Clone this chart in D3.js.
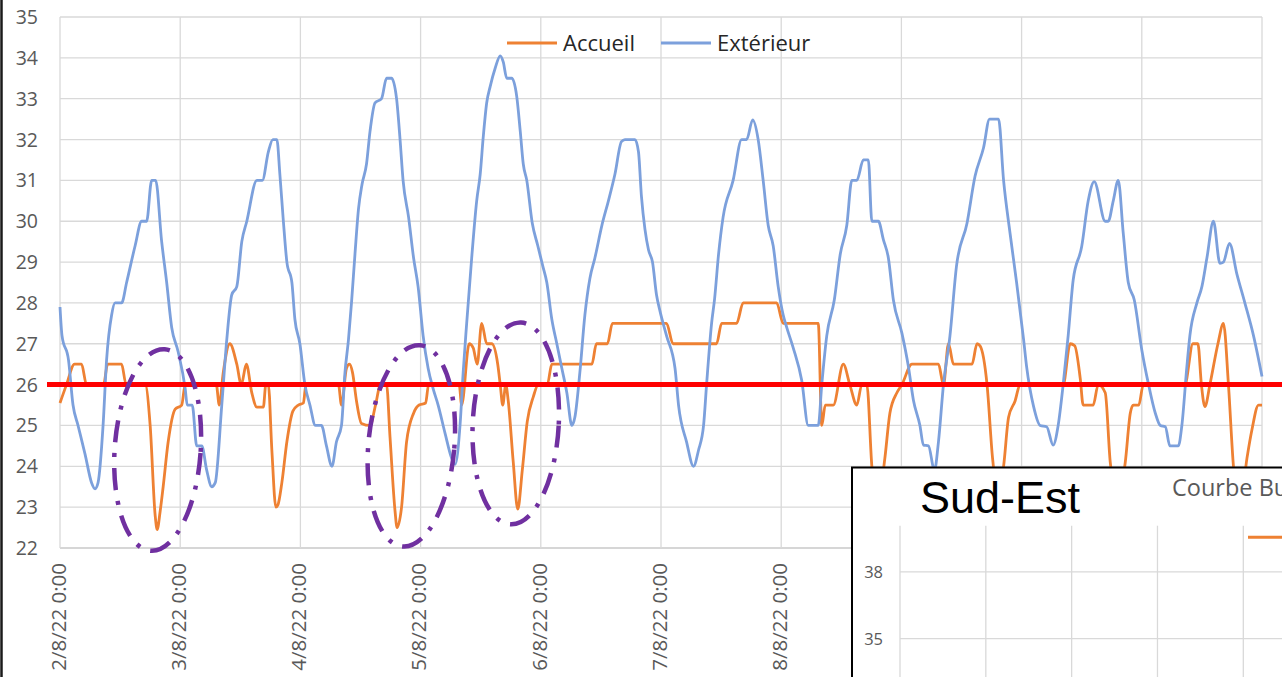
<!DOCTYPE html>
<html>
<head>
<meta charset="utf-8">
<script src="https://cdn.jsdelivr.net/npm/d3@7"></script>
<style>
  html, body { margin: 0; padding: 0; background: #fff; }
  svg { display: block; }
  .grid line { stroke: #d9d9d9; stroke-width: 1.3; }
  .tick-label { font-family: "Open Sans", sans-serif; fill: #595959; }
  .legend-label { font-family: "Open Sans", sans-serif; font-size: 22px; fill: #262626; }
  .serie { fill: none; stroke-width: 2.8; stroke-linejoin: round; }
</style>
</head>
<body>
<svg id="chart" width="1282" height="677"></svg>
<script>
// Extérieur / Accueil temperatures, [hours since 2/8/22 0:00, °C]
const exterieur = [
	[0,27.9],[0.4,27.2],[1.7,26.6],[2.6,25.5],[3.6,25.0],[5,24.3],[6.3,23.6],[7,23.45],[7.6,23.6],[8.6,25.0],
	[9.3,26.6],[10.3,27.7],[11,28],[12.3,28],[13.3,28.5],[15,29.4],[16.3,30],[17.3,30],[18.3,31],[19.1,31],
	[20.3,29.5],[21.3,28.5],[22.3,27.4],[23.6,26.8],[25,25.9],[25.4,25.5],[26.4,25.5],[27.3,24.5],[28.3,24.5],[29.3,23.9],
	[30.3,23.5],[31,23.6],[32.3,25.5],[33.3,27.1],[34.3,28.2],[35.3,28.4],[36.3,29.5],[37.3,30],[39.3,31],[40.4,31],
	[41.6,31.7],[42.5,32],[43.3,32],[43.9,31.15],[44.6,30],[45.3,29],[46.3,28.5],[46.9,27.6],[47.9,27],[48.9,26],
	[49.9,25.5],[51,25],[52.2,25],[53.2,24.5],[54.3,24],[55.2,24.6],[56.2,25],[56.9,26.3],[57.6,27.1],[58.2,28],
	[58.9,29.2],[59.6,30.3],[60.3,30.9],[61.2,31.4],[61.9,32.2],[62.9,32.9],[64.2,33],[65.2,33.5],[66.2,33.5],[67.2,33],
	[67.9,32],[68.5,31],[69.6,30.1],[70.6,29.1],[71.5,28.4],[72.5,27.2],[73.5,26.4],[74.5,25.9],[75.5,25.5],[76.9,24.8],
	[78.2,24.2],[78.9,24.05],[79.9,25.05],[80.5,26.3],[81.2,27.5],[82.2,29.1],[83.2,30.5],[83.9,31.15],[84.5,32.05],[85.2,32.9],
	[85.9,33.3],[86.9,33.75],[87.9,34.05],[88.5,33.9],[89.2,33.5],[90.2,33.5],[91.2,33.05],[91.9,32.2],[92.5,31.4],[93.2,31],
	[94.3,29.95],[95.4,29.4],[96.4,28.9],[97.2,28.5],[98.2,27.6],[99.2,27.0],[100.2,26.4],[101.2,25.8],[102.2,25.0],[102.8,25.2],
	[103.8,26.3],[104.8,27.7],[105.8,28.6],[106.8,29.1],[108.2,29.9],[109.5,30.5],[110.8,31.15],[112.1,31.95],[112.8,32],[114.8,32],
	[115.5,31.7],[116.1,30.6],[116.8,29.8],[117.5,29.3],[118.3,29],[119.1,28.2],[119.8,27.8],[121.1,27.2],[122.8,26.4],[123.5,25.5],
	[125.1,24.6],[126.5,24.0],[127.5,24.4],[128.5,25],[129.1,26],[130.1,27.5],[130.7,28.1],[131.5,29.2],[132.4,30.1],[134.4,31],
	[136.1,32],[137.1,32],[138.3,32.48],[139.4,32],[140.4,31],[141.4,29.9],[142.4,29.4],[143.4,28.4],[144.4,27.7],[145.1,27.4],
	[146.4,26.9],[148.1,26.1],[149.4,25],[151.4,25],[152.1,26],[153.1,27.2],[154.6,28.07],[155.8,29.2],[157.1,29.9],[158.1,31],
	[159.1,31],[160.4,31.5],[161.4,31.5],[162.1,30],[163.4,30],[164.4,29.55],[165.4,29.1],[166.4,28.07],[168.1,27.26],[169.4,26.44],
	[170.4,25.62],[171.7,25],[172.4,24.52],[173.4,24.5],[174.6,23.9],[175.4,24.6],[176.4,26],[177.7,27.2],[179,28.9],[181.1,29.95],
	[182.7,31.1],[184.4,31.8],[185.6,32.5],[187.4,32.5],[188.4,31],[189.7,29.7],[191,28.5],[192.4,27.1],[193,26.44],[194.4,25.46],
	[195.7,25],[197,24.97],[198.3,24.52],[199.3,25],[200.3,26],[201.3,27.2],[202.3,28.56],[204,29.38],[205.3,30.5],[206.5,30.97],
	[208.7,30],[209.3,30],[210.3,30.5],[211.3,31],[212.3,29.7],[213.3,28.5],[214.5,28.07],[216,26.85],[217.3,26.03],[218.7,25.3],
	[219.7,25],[220.7,24.97],[221.6,24.5],[223.3,24.5],[224,25],[225,26.44],[225.6,27.2],[227,28.0],[228,28.4],[229,29.1],
	[230.3,30],[231.6,28.97],[232.3,29],[233.5,29.46],[235,28.7],[236.6,27.99],[238.3,27.2],[240,26.2]
];

const accueil = [
	[0,25.55],[1.3,26],[2.9,26.5],[4.3,26.5],[5.3,26],[8.7,26],[9.5,26.5],[12.3,26.5],[13.2,26],[17,26],
	[18,25],[19,22.8],[19.4,22.45],[20,22.9],[20.6,23.5],[21.6,24.6],[23,25.4],[24.3,25.5],[25,26],[31.2,26],
	[31.8,25.5],[32.6,26.3],[33.9,27],[35.3,26.5],[36.2,26],[37.2,26.5],[38.3,25.8],[39.3,25.45],[40.6,25.45],[41.1,26],
	[41.6,26],[42.3,24.4],[43.1,23.0],[43.5,23.05],[44.3,23.6],[45.3,24.6],[46.5,25.35],[47.6,25.5],[48.6,25.55],[49.1,26],
	[55.6,26],[56.2,25.5],[57.2,26.4],[57.8,26.5],[58.4,26.3],[59.2,25.6],[60.2,25.05],[61.9,25],[63,25.5],[64,26],
	[65.2,26],[65.9,24.7],[66.9,22.9],[67.3,22.5],[68.2,23.0],[69.2,24.6],[70.6,25.3],[71.7,25.5],[73,25.55],[73.6,26],
	[79.7,26],[80.2,25.5],[81.7,27],[82.5,26.9],[83.3,26.5],[84.2,27.5],[85.2,27],[86.2,27],[87.4,26.5],[87.9,26],
	[88.4,25.5],[89,26],[89.5,25.6],[90.5,24.1],[91.4,22.95],[92.3,23.9],[93.3,25.1],[94.5,25.7],[95.5,26],[97.3,26],
	[98.2,26.5],[106.2,26.5],[107.1,27],[109.3,27],[110.3,27.5],[121.1,27.5],[122.4,27],[131.1,27],[132.1,27.5],[135.1,27.5],
	[136.4,28],[143.1,28],[144.4,27.5],[151.4,27.5],[152.1,25],[152.8,25.5],[154.4,25.5],[156.4,26.5],[157.7,26],[159.1,25.5],
	[160.1,26],[161.1,26],[162.1,24],[163.2,23],[164.7,24.2],[165.7,25.3],[167.1,25.8],[168.1,26],[170.1,26.5],[175.4,26.5],
	[176.4,26],[177.4,27],[178.4,26.5],[182.1,26.5],[183.1,27],[183.7,26.95],[185.1,26],[186.2,24.2],[187.3,23.3],[188.4,24],
	[189.4,25.2],[190.7,25.6],[191.7,26],[200.3,26],[201.7,27],[202.6,26.95],[203.7,26.16],[204.3,25.5],[206.3,25.5],[207.3,26],
	[208.7,25.8],[209.7,24.1],[211.2,23.2],[212.7,24.1],[213.7,25.3],[214.3,25.5],[215.4,25.5],[216.3,26],[224.6,26],[226.2,27],
	[227.2,27],[227.9,26],[228.6,25.46],[229.6,26],[231.2,27],[232.3,27.5],[233.3,26],[234.3,24],[235.6,23],[237,24.2],
	[238,24.9],[239.3,25.5],[240,25.5]
];

const series = [
	{name: "Accueil", color: "#ee8133", data: accueil},
	{name: "Extérieur", color: "#7ca0dc", data: exterieur}
];
const yTicks = d3.range(22, 36);          // 22 .. 35
const seuil = 26;                         // red comfort line
// circled night dips: [hours, °C, tilt]
const zones = [[19.5, 24.4, 4], [70.15, 24.5, 5], [91.0, 25.05, 3]];

// inset ("Sud-Est") grid
const insetTicks = d3.range(20, 41, 3);
const insetCols = d3.range(0, 5);

const start = new Date(2022, 7, 2);
const end = new Date(2022, 7, 12);
const toDate = h => new Date(+start + h * 3600e3);

const svg = d3.select("#chart");
svg.append("rect").attr("width", 1282).attr("height", 677).attr("fill", "#fff");

const plotLeft = 60, plotRight = 1262, plotTop = 17, plotBottom = 548;
const insetLeft = 852, insetTop = 467.5;
const x = d3.scaleTime().domain([start, end]).range([plotLeft, plotRight]);
const y = d3.scaleLinear().domain([22, 35]).range([plotBottom, plotTop]);
const days = x.ticks(d3.timeDay.every(1));
const fmt = d3.timeFormat("%-d/%-m/%y %-H:%M");

// grid
const grid = svg.append("g").classed("grid", true);
grid.selectAll(".h").data(yTicks).enter().append("line")
	.attr("x1", plotLeft).attr("x2", plotRight)
	.attr("y1", d => y(d)).attr("y2", d => y(d))
	.style("stroke", d => d == 22 ? "#c9c9c9" : null);
grid.selectAll(".v").data(days).enter().append("line")
	.attr("x1", d => x(d)).attr("x2", d => x(d))
	.attr("y1", plotTop).attr("y2", plotBottom);

// y labels
svg.append("g").selectAll("text").data(yTicks).enter().append("text")
	.classed("tick-label", true)
	.attr("x", 38).attr("y", d => y(d)).attr("dy", "0.36em")
	.attr("text-anchor", "end").style("font-size", "19.5px")
	.text(d => d);

// x labels, rotated (the ones under the inset are hidden anyway)
svg.append("g").selectAll("text").data(days.filter(d => x(d) < insetLeft)).enter().append("text")
	.classed("tick-label", true)
	.attr("transform", d => `translate(${x(d) - 1.5}, 563) rotate(-90)`)
	.attr("dy", "0.36em").attr("text-anchor", "end")
	.style("font-size", "20.5px")
	.text(d => fmt(d));

// series
const line = d3.line()
	.x(d => x(toDate(d[0])))
	.y(d => y(d[1]))
	.curve(d3.curveMonotoneX);
svg.append("g").selectAll("path").data(series).enter().append("path")
	.classed("serie", true)
	.attr("stroke", d => d.color)
	.attr("d", d => line(d.data));

// legend
const legendX = [507, 661];
const legend = svg.append("g").selectAll("g").data(series).enter().append("g")
	.attr("transform", (d, i) => `translate(${legendX[i]}, 43)`);
legend.append("line").attr("x1", 0).attr("x2", 50)
	.attr("stroke", d => d.color).attr("stroke-width", 3);
legend.append("text").classed("legend-label", true)
	.attr("x", 56).attr("dy", "0.36em").text(d => d.name);

// threshold
svg.append("line")
	.attr("x1", 47).attr("x2", 1282)
	.attr("y1", y(seuil)).attr("y2", y(seuil))
	.attr("stroke", "#ff0000").attr("stroke-width", 5);

// circled zones
svg.append("g").selectAll("ellipse").data(zones).enter().append("ellipse")
	.attr("transform", d => `translate(${x(toDate(d[0]))}, ${y(d[1])}) rotate(${d[2]})`)
	.attr("rx", 43).attr("ry", 101)
	.attr("fill", "none").attr("stroke", "#7030a0").attr("stroke-width", 4.5)
	.attr("stroke-dasharray", "22,11,4,11");

// left frame edge
svg.append("line").attr("x1", 1.5).attr("x2", 1.5).attr("y1", 0).attr("y2", 677)
	.attr("stroke", "#1a1a1a").attr("stroke-width", 2.5);

// inset "Sud-Est" chart, cut by the picture edge
const inset = svg.append("g");
inset.append("rect")
	.attr("x", insetLeft).attr("y", insetTop).attr("width", 450).attr("height", 230)
	.attr("fill", "#fff").attr("stroke", "#000").attr("stroke-width", 2);
const yi = d3.scaleLinear().domain([20, 40]).range([972, 527.5]);
const xi = d3.scaleLinear().domain([0, 4]).range([900, 1243.3]);
const shownTicks = insetTicks.filter(d => yi(d) < 677);
const igrid = inset.append("g").classed("grid", true);
igrid.selectAll(".h").data(shownTicks).enter().append("line")
	.attr("x1", 900).attr("x2", 1290)
	.attr("y1", d => yi(d)).attr("y2", d => yi(d));
igrid.selectAll(".v").data(insetCols).enter().append("line")
	.attr("x1", d => xi(d)).attr("x2", d => xi(d))
	.attr("y1", 525.7).attr("y2", 690);
inset.append("g").selectAll("text").data(shownTicks).enter().append("text")
	.classed("tick-label", true)
	.attr("x", 883).attr("y", d => yi(d)).attr("dy", "0.36em")
	.attr("text-anchor", "end").style("font-size", "16.5px")
	.text(d => d);
inset.append("text")
	.attr("x", 920).attr("y", 513)
	.style("font-family", "'Liberation Sans', Arial, sans-serif")
	.style("font-size", "45px").attr("fill", "#000")
	.text("Sud-Est");
inset.append("text")
	.attr("x", 1172).attr("y", 495.5)
	.classed("tick-label", true).style("font-size", "23.5px")
	.text("Courbe Bu");
inset.append("line")
	.attr("x1", 1248).attr("x2", 1290).attr("y1", 537.3).attr("y2", 537.3)
	.attr("stroke", "#ee8133").attr("stroke-width", 3);
</script>
</body>
</html>
